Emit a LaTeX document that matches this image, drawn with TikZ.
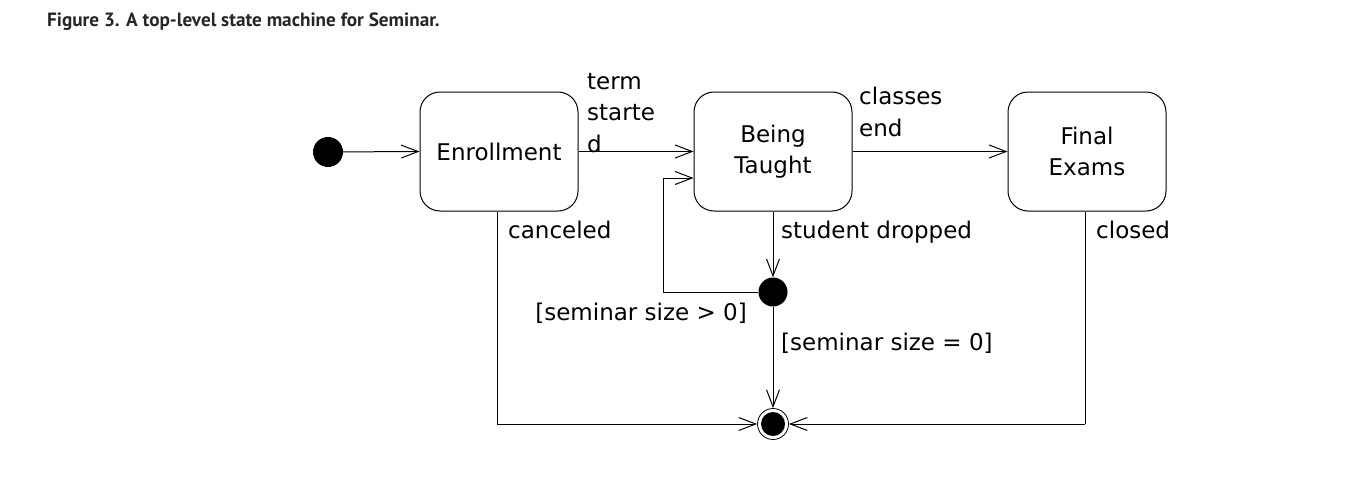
\documentclass[tikz,border=0pt]{standalone}
\usepackage{fontspec}
\setmainfont{DejaVu Sans}
\newfontfamily\titlefont{PT Sans}
\usetikzlibrary{arrows.meta}
\begin{document}
\begin{tikzpicture}[x=1pt,y=-1pt,
  statebox/.style={draw,line width=1pt,rounded corners=20pt,minimum width=158pt,minimum height=119pt,align=center,font=\fontsize{23}{31}\selectfont,inner sep=0pt},
  lbl/.style={font=\fontsize{23}{31.5}\selectfont,inner sep=0pt,align=left,anchor=base west},
  tr/.style={line width=1pt,-{Straight Barb[length=17pt,width=13pt,line width=1pt]}},
  ln/.style={line width=1pt}]
\useasboundingbox (0,0) rectangle (1364,503);
\node[anchor=west,font=\titlefont\bfseries\fontsize{19.2}{22}\selectfont,text=black!85,inner sep=0pt] (title) at (47,22) {Figure 3. A top-level state machine for Seminar.};
\node[circle,fill=black,minimum size=30pt,inner sep=0pt] (start) at (328,152) {};
\node[statebox] (enr) at (499,151.5) {Enrollment};
\node[statebox] (bt) at (773,151.5) {Being\\Taught};
\node[statebox] (fe) at (1087,151.5) {Final\\Exams};
\node[circle,fill=black,minimum size=29pt,inner sep=0pt] (junc) at (773,292) {};
\node[circle,draw,line width=0.8pt,minimum size=31pt,inner sep=0pt] (fin) at (773,424) {};
\node[circle,fill=black,minimum size=24pt,inner sep=0pt] (finin) at (773,424) {};
\coordinate (c1) at (497,424);
\coordinate (c2) at (1085,424);
\coordinate (c3) at (663,292);
\coordinate (c4) at (663,178);
\draw[tr] (start) -- (enr.west);
\draw[tr] (enr.east) -- (bt.west);
\draw[tr] (bt.east) -- (fe.west);
\draw[tr] (bt.south) -- (junc.north);
\draw[tr] (junc.south) -- (fin.north);
\draw[ln] (junc.west) -- (c3) -- (c4);
\draw[tr] (c4) -- (bt.west |- c4);
\draw[ln] (enr.south -| c1) -- (c1);
\draw[tr] (c1) -- (fin.west);
\draw[ln] (fe.south -| c2) -- (c2);
\draw[tr] (c2) -- (fin.east);
\node[lbl] (l1) at (587,152) {term\\starte\\d};
\node[lbl] (l2) at (859,136) {classes\\end};
\node[lbl] (l3) at (508,238) {canceled};
\node[lbl] (l4) at (781,238) {student dropped};
\node[lbl] (l5) at (1096,238) {closed};
\node[lbl,anchor=base east] (l6) at (747,320) {[seminar size > 0]};
\node[lbl] (l7) at (781,350) {[seminar size = 0]};
\end{tikzpicture}
\end{document}
